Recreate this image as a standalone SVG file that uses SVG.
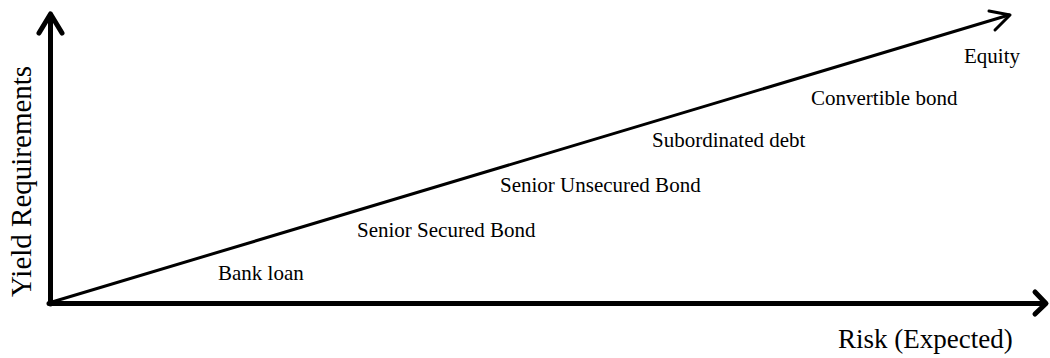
<svg xmlns="http://www.w3.org/2000/svg" width="1050" height="358" viewBox="0 0 1050 358">
  <style>
    .axis { fill: none; stroke: #000; stroke-width: 5; stroke-linecap: round; stroke-linejoin: round; }
    .diag { fill: none; stroke: #000; stroke-width: 3; stroke-linecap: round; stroke-linejoin: round; }
    .lbl { font-family: "Liberation Serif", "Times New Roman", serif; font-size: 21px; fill: #000; }
    .ax { font-family: "Liberation Serif", "Times New Roman", serif; font-size: 27px; fill: #000; }
  </style>
  <rect width="1050" height="358" fill="#fff"/>
  <g id="connectors">
    <path class="axis" d="M50.5,304 L50.5,15"/>
    <path class="axis" d="M39,33 L50.5,14 L62,33"/>
    <path class="axis" d="M49,303.5 L1045,303.5"/>
    <path class="axis" d="M1035,292 L1046,303.5 L1035,314"/>
    <path class="diag" d="M52,302 L1009,15"/>
    <path class="diag" d="M989,11 L1010,15 L995,30"/>
  </g>
  <g id="axis-y-label"><text class="ax" style="font-size:29px" transform="translate(31,297) rotate(-90)">Yield Requirements</text></g>
  <g id="axis-x-label"><text class="ax" x="838" y="348">Risk (Expected)</text></g>
  <g id="bank-loan"><text class="lbl" x="218" y="280">Bank loan</text></g>
  <g id="senior-secured"><text class="lbl" x="357" y="237">Senior Secured Bond</text></g>
  <g id="senior-unsecured"><text class="lbl" x="500" y="192">Senior Unsecured Bond</text></g>
  <g id="subordinated"><text class="lbl" x="652" y="147">Subordinated debt</text></g>
  <g id="convertible"><text class="lbl" x="811" y="105">Convertible bond</text></g>
  <g id="equity"><text class="lbl" x="964" y="63">Equity</text></g>
</svg>
